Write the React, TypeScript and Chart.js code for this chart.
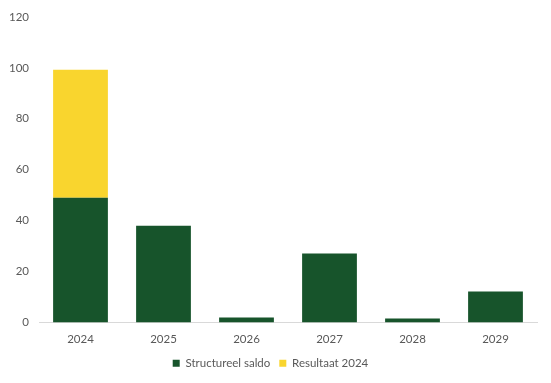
import React, { useEffect, useRef } from "react";
import { Chart, registerables } from "chart.js";

Chart.register(...registerables);

const categories = ["2024", "2025", "2026", "2027", "2028", "2029"];
const structureelSaldo = [49, 38, 2, 27.1, 1.6, 12.2];
const resultaat2024 = [50.2, null, null, null, null, null];
const seriesNames = ["Structureel saldo", "Resultaat 2024"];

export default function App() {
  const ref = useRef<HTMLCanvasElement>(null);
  useEffect(() => {
    if (!ref.current) return;
    const font = { family: "Lato, 'Open Sans', sans-serif", size: 11.5 };
    const chart = new Chart(ref.current, {
      type: "bar",
      data: {
        labels: categories,
        datasets: [
          {
            label: seriesNames[0],
            data: structureelSaldo,
            backgroundColor: "#17542B",
            barPercentage: 0.66,
            categoryPercentage: 1,
          },
          {
            label: seriesNames[1],
            data: resultaat2024 as any,
            backgroundColor: "#F9D52E",
            barPercentage: 0.66,
            categoryPercentage: 1,
          },
        ],
      },
      options: {
        animation: false,
        responsive: false,
        maintainAspectRatio: false,
        layout: { padding: { left: 4, right: 14, top: 6, bottom: 4 } },
        scales: {
          x: {
            stacked: true,
            grid: { display: false, drawTicks: false },
            border: { display: true, color: "#D9D9D9", width: 1 },
            ticks: { color: "#595959", font, padding: 10 },
            afterFit: (scale: any) => {
              scale.height = 26;
            },
          },
          y: {
            stacked: true,
            min: 0,
            max: 120,
            grid: { display: false, drawTicks: false },
            border: { display: false },
            ticks: { stepSize: 20, color: "#595959", font, padding: 10 },
            afterFit: (scale: any) => {
              scale.width = 35;
            },
          },
        },
        plugins: {
          legend: {
            position: "bottom",
            labels: {
              boxWidth: 7,
              boxHeight: 7,
              color: "#595959",
              font,
              padding: 9,
            },
          },
          tooltip: { enabled: false },
        },
      },
    });
    return () => chart.destroy();
  }, []);
  return (
    <div style={{ position: "absolute", left: 0, top: 0, width: 551, height: 383, background: "#fff" }}>
      <canvas ref={ref} width={551} height={383} />
    </div>
  );
}
